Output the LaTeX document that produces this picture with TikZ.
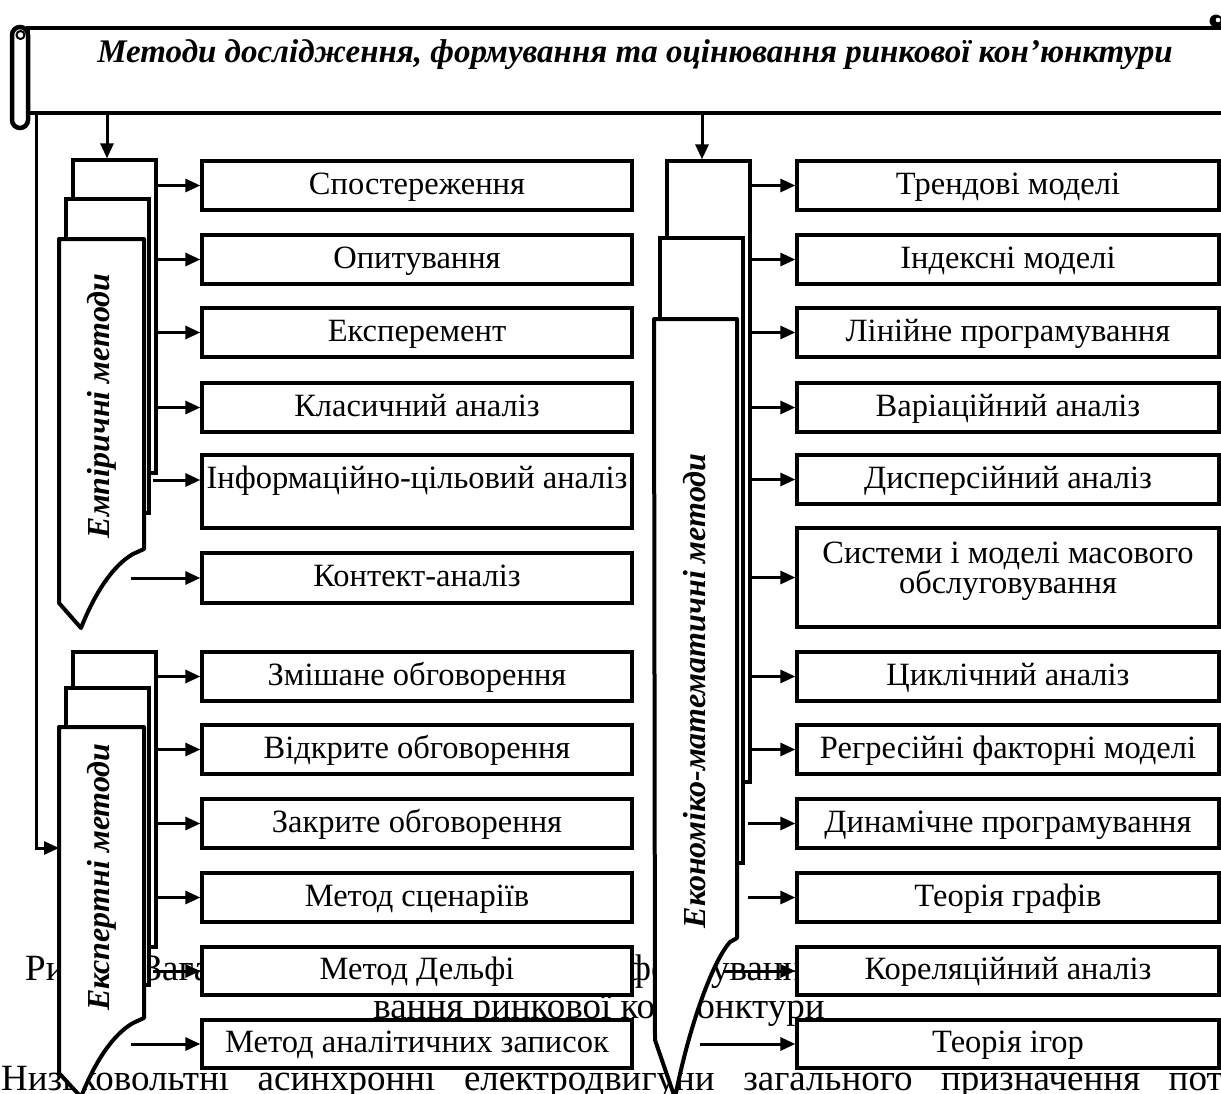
\documentclass[tikz,border=0pt]{standalone}
\usepackage{fontspec}
\setmainfont{Liberation Serif}
\usetikzlibrary{arrows.meta,calc}
\begin{document}
\begin{tikzpicture}[x=1pt,y=-1pt,
  bg/.style={inner sep=0pt,font=\fontsize{37}{44}\selectfont},
  bline/.style={line width=4.5pt},
  titl/.style={inner sep=0pt,font=\fontsize{33}{38}\selectfont\bfseries\itshape},
  mbox/.style={draw,line width=3.3pt,fill=white,inner sep=0pt,align=center,
    text height=22pt,text depth=5pt,font=\fontsize{32.5}{30}\selectfont},
  lbox/.style={mbox,minimum width=430pt,minimum height=49pt},
  rbox/.style={mbox,minimum width=422pt,minimum height=49pt},
  stk/.style={draw,line width=3.3pt,fill=white,inner sep=0pt,minimum width=83pt},
  front/.style={draw,line width=4pt,fill=white,line join=round},
  vlab/.style={inner sep=0pt,rotate=90,font=\fontsize{32}{36}\selectfont\bfseries\itshape},
  arr/.style={line width=3pt,-{Triangle[length=15pt,width=13pt]}}
]
\useasboundingbox (0,0) rectangle (1221,1093);
\fill[white] (0,0) rectangle (1221,1093);

% background text (partly hidden)
\node[bg,anchor=base west] (capa) at (25,980) {Рис. 2. Загальна схема методів};
\node[bg,anchor=base west] (capb) at (627,980) {формування та оцінювання};
\node[bg,anchor=base] (capc) at (599,1018) {вання ринкової кон’юнктури};
\node[bg,anchor=base west] (bodyline) at (1,1090) {\makebox[1355pt][s]{Низьковольтні асинхронні електродвигуни загального призначення потужністю}};

% banner
\node[inner sep=0pt,minimum width=1200pt,minimum height=85pt,anchor=north west] (banner) at (28,28) {};
\draw[bline,fill=white] (28,28) rectangle (1240,113);
\draw[bline,fill=white,rounded corners=8pt] (12,27) rectangle (28,128);
\draw[line width=2pt] (20.5,35) circle (4);
\fill (1216,21) circle (6.5);
\fill[white] (1218,20) circle (2.3);
\node[titl,anchor=base] (ttl) at (635,62) {Методи дослідження, формування та оцінювання ринкової кон’юнктури};

% left column boxes
\node[lbox] (L1) at (417,185.5) {Спостереження};
\node[lbox] (L2) at (417,259.5) {Опитування};
\node[lbox] (L3) at (417,332.5) {Експеремент};
\node[lbox] (L4) at (417,407.5) {Класичний аналіз};
\node[lbox,minimum height=73pt,text height=10pt,text depth=17pt] (L5) at (417,491.5) {Інформаційно-цільовий аналіз};
\node[lbox,minimum height=50pt] (L6) at (417,578) {Контект-аналіз};
\node[lbox] (L7) at (417,676.5) {Змішане обговорення};
\node[lbox] (L8) at (417,749.5) {Відкрите обговорення};
\node[lbox] (L9) at (417,823.5) {Закрите обговорення};
\node[lbox] (L10) at (417,897.5) {Метод сценаріїв};
\node[lbox,minimum height=48pt] (L11) at (417,971) {Метод Дельфі};
\node[lbox,minimum height=48pt] (L12) at (417,1044) {Метод аналітичних записок};

% right column boxes
\node[rbox] (R1) at (1008,185.5) {Трендові моделі};
\node[rbox] (R2) at (1008,259.5) {Індексні моделі};
\node[rbox] (R3) at (1008,332.5) {Лінійне програмування};
\node[rbox] (R4) at (1008,407.5) {Варіаційний аналіз};
\node[rbox] (R5) at (1008,479.5) {Дисперсійний аналіз};
\node[rbox,minimum height=99pt,text height=38pt,text depth=7pt] (R6) at (1008,577.5) {Системи і моделі масового\\обслуговування};
\node[rbox] (R7) at (1008,676.5) {Циклічний аналіз};
\node[rbox] (R8) at (1008,749.5) {Регресійні факторні моделі};
\node[rbox] (R9) at (1008,823.5) {Динамічне програмування};
\node[rbox] (R10) at (1008,897.5) {Теорія графів};
\node[rbox,minimum height=48pt] (R11) at (1008,971) {Кореляційний аналіз};
\node[rbox,minimum height=48pt] (R12) at (1008,1044) {Теорія ігор};

% empirical stack
\node[stk,minimum height=313pt] (eback) at (114.5,316.5) {};
\node[stk,minimum height=314pt] (emid) at (107.5,356) {};
\draw[front] (59,239) -- (144,239) -- (144,549) -- (133,554)
  .. controls (112,566) and (94,595) .. (81,628) -- (59,603) -- cycle;
\node[vlab] (elab) at (102,406) {Емпіричні методи};

% expert stack
\node[stk,minimum height=295pt] (xback) at (114.5,799.5) {};
\node[stk,minimum height=297pt] (xmid) at (107.5,836.5) {};
\draw[front] (59,727) -- (144,727) -- (144,1018) -- (133,1023)
  .. controls (112,1035) and (94,1064) .. (81,1097) -- (59,1073) -- cycle;
\node[vlab] (xlab) at (102,877) {Експертні методи};

% econ stack
\node[stk,minimum height=621pt] (cback) at (708.5,471.5) {};
\node[stk,minimum height=625pt] (cmid) at (701.5,550.5) {};
\draw[front] (654,319) -- (737,319) -- (737,938) -- (730,942)
  .. controls (712,962) and (688,1030) .. (675,1098) -- (655,1040) -- cycle;
\node[vlab] (clab) at (695,691) {Економіко-математичні методи};

% connectors from banner
\coordinate (d1) at (107,113);
\coordinate (d2) at (702,113);
\coordinate (lv) at (36,113);
\coordinate (xl) at (59,848);
\draw[arr] (d1) -- (d1 |- eback.north);
\draw[arr] (d2) -- (d2 |- cback.north);
\draw[arr] (lv) |- (xl);

% left arrows
\foreach \b in {L1,L2,L3,L4}{\draw[arr] (eback.east |- \b.west) -- (\b.west);}
\draw[arr] ([xshift=-47pt,yshift=11.5pt]L5.west) -- ([yshift=11.5pt]L5.west);
\draw[arr] ([xshift=-69pt]L6.west) -- (L6.west);
\foreach \b in {L7,L8,L9,L10}{\draw[arr] (xback.east |- \b.west) -- (\b.west);}
\draw[arr] ([xshift=-47pt]L11.west) -- (L11.west);
\draw[arr] ([xshift=-69pt]L12.west) -- (L12.west);

% right arrows
\foreach \b in {R1,R2,R3,R4,R5,R6,R7,R8}{\draw[arr] (cback.east |- \b.west) -- (\b.west);}
\draw[arr] ([xshift=-47pt]R9.west) -- (R9.west);
\draw[arr] ([xshift=-47pt]R10.west) -- (R10.west);
\draw[arr] ([xshift=-72pt]R11.west) -- (R11.west);
\draw[arr] ([xshift=-95pt]R12.west) -- (R12.west);
\end{tikzpicture}
\end{document}
